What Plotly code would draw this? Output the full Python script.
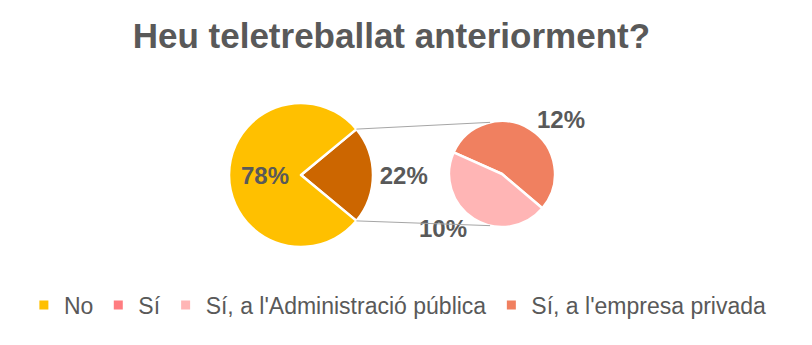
import math
import plotly.graph_objects as go

# ---- data ----
main_labels = ["Sí", "No"]
main_values = [22, 78]
sub_labels = ["Sí, a l'empresa privada", "Sí, a l'Administració pública"]
sub_values = [12, 10]
legend_labels = ["No", "Sí", "Sí, a l'Administració pública", "Sí, a l'empresa privada"]
legend_colors = ["#FFC000", "#FF7C80", "#FFB5B5", "#F08060"]
title_text = "Heu teletreballat anteriorment?"

W, H = 812, 345
TXT = "#595959"
FONT = "Liberation Sans, Arial, sans-serif"

# geometry (pixels)
c1 = (301, 175); r1 = 72
c2 = (502, 174); r2 = 53

def dom(c, r):
    return dict(x=[(c[0] - r) / W, (c[0] + r) / W],
                y=[(H - c[1] - r) / H, (H - c[1] + r) / H])

share = main_values[0] / sum(main_values)
half = share * 360 / 2
rot_main = 90 - half

lblfont = dict(family=FONT, size=24, color=TXT)

fig = go.Figure()
fig.add_trace(go.Pie(
    labels=main_labels, values=main_values, sort=False, direction="clockwise",
    rotation=rot_main, domain=dom(c1, r1),
    marker=dict(colors=["#CC6600", "#FFC000"], line=dict(color="white", width=2.5)),
    texttemplate="<b>%{value}%</b>", textposition=["outside", "inside"],
    textfont=lblfont, insidetextfont=lblfont, outsidetextfont=lblfont,
    showlegend=False, hoverinfo="label+value", insidetextorientation="horizontal",
))
fig.add_trace(go.Pie(
    labels=sub_labels, values=sub_values, sort=False, direction="clockwise",
    rotation=294, domain=dom(c2, r2),
    marker=dict(colors=["#F08060", "#FFB5B5"], line=dict(color="white", width=2.5)),
    texttemplate="<b>%{value}%</b>", textposition="outside",
    textfont=lblfont, outsidetextfont=lblfont,
    showlegend=False, hoverinfo="label+value",
))

for lab, col in zip(legend_labels, legend_colors):
    fig.add_trace(go.Scatter(x=[None], y=[None], mode="markers", name=lab,
                             marker=dict(symbol="square", size=9, color=col)))

# connector lines between pies
a = math.radians(half)
p_top = (c1[0] + r1 * math.cos(a), c1[1] - r1 * math.sin(a))
p_bot = (c1[0] + r1 * math.cos(a), c1[1] + r1 * math.sin(a))
b = math.radians(103)
q_top = (c2[0] + r2 * math.cos(b), c2[1] - r2 * math.sin(b))
q_bot = (c2[0] + r2 * math.cos(b), c2[1] + r2 * math.sin(b))
for p, q in [(p_top, q_top), (p_bot, q_bot)]:
    fig.add_shape(type="line", xref="paper", yref="paper",
                  x0=p[0] / W, y0=1 - p[1] / H, x1=q[0] / W, y1=1 - q[1] / H,
                  line=dict(color="#A6A6A6", width=1))

fig.update_layout(
    width=W, height=H, margin=dict(l=0, r=0, t=0, b=0),
    paper_bgcolor="white", plot_bgcolor="white",
    title=dict(text="<b>" + title_text + "</b>", x=0.482, xanchor="center",
               y=1 - 36 / H, yanchor="middle",
               font=dict(family=FONT, size=35, color=TXT)),
    xaxis=dict(visible=False), yaxis=dict(visible=False),
    legend=dict(orientation="h", x=0.49, xanchor="center", y=1 - 305 / H, yanchor="middle",
                font=dict(family=FONT, size=23, color=TXT), itemwidth=30,
                bgcolor="rgba(0,0,0,0)"),
    font=dict(family=FONT, color=TXT),
)
fig.write_html("out.html")
